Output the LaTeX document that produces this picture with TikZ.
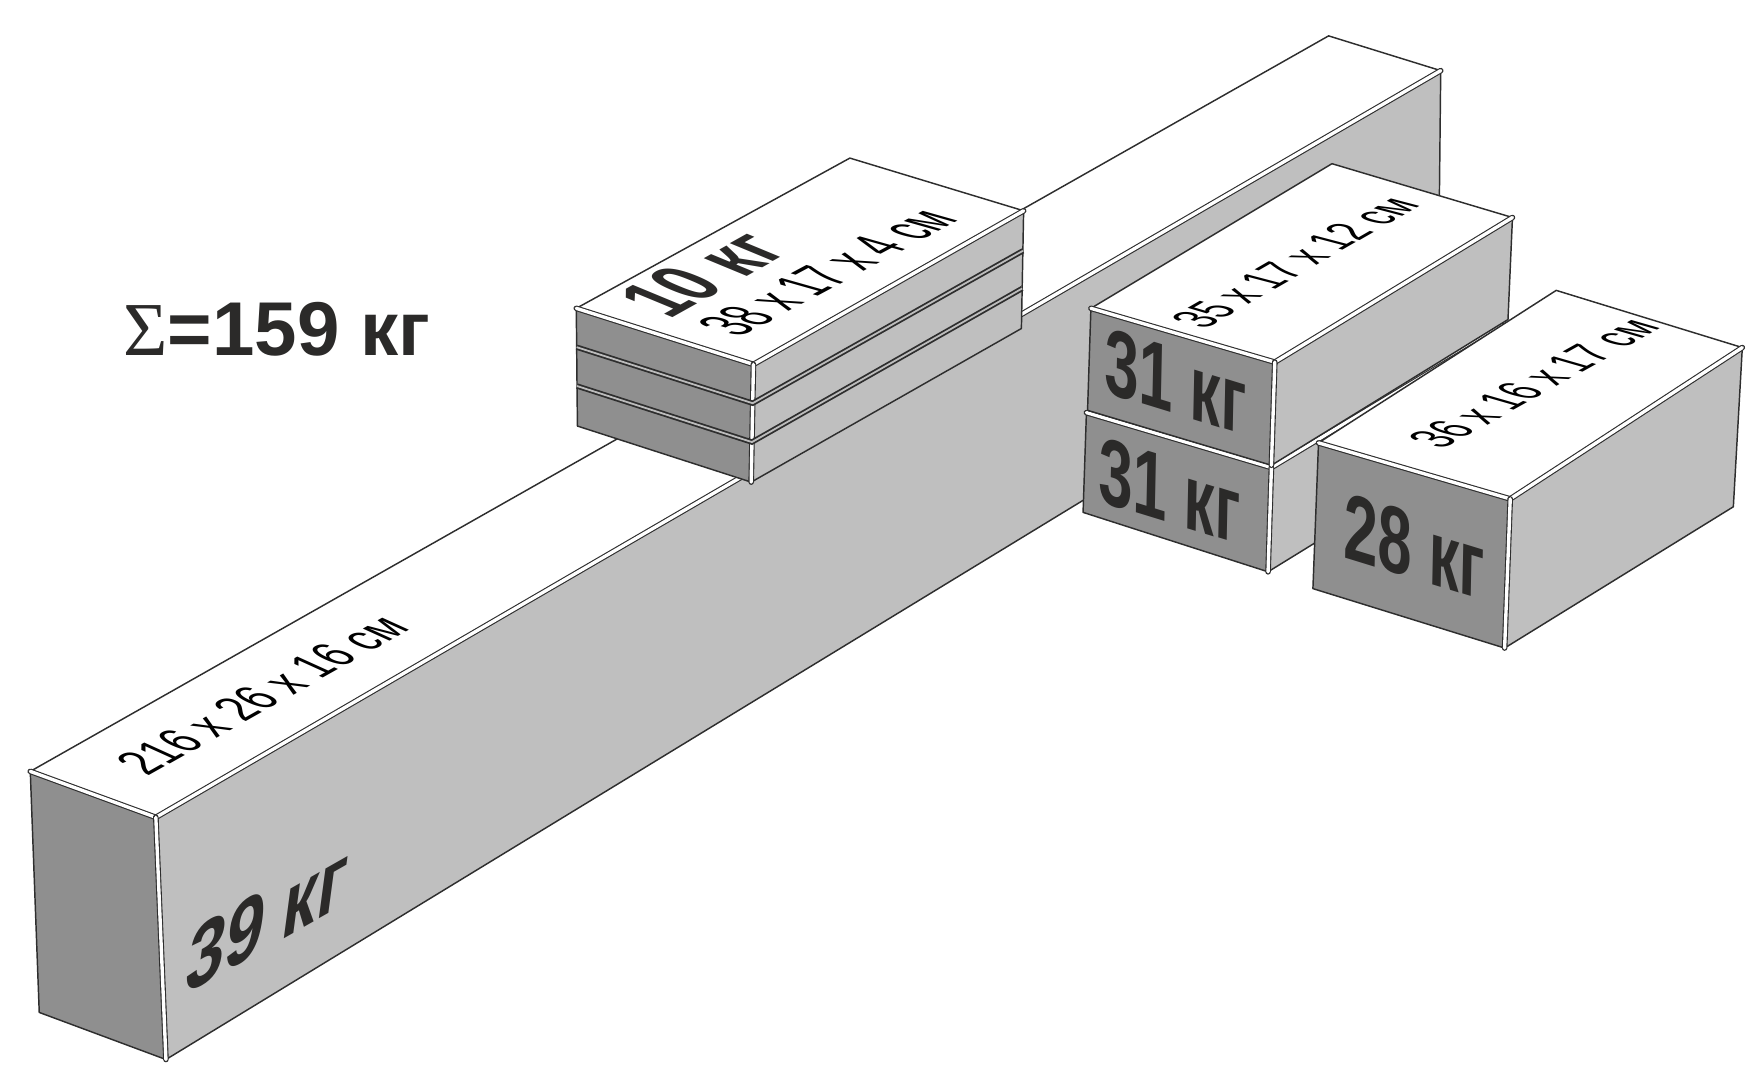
\documentclass[tikz,border=0pt]{standalone}
\usepackage{fontspec}
\usetikzlibrary{calc}
\setmainfont{Liberation Sans}
\newfontfamily\sigmafont{Liberation Serif}
\definecolor{sidegray}{HTML}{BFBFBF}
\definecolor{frontgray}{HTML}{8F8F8F}
\definecolor{inkgray}{HTML}{2B2A29}
\definecolor{edgegray}{HTML}{2E2E2E}
\tikzset{
	thinedge/.style = {draw=edgegray, line width=1.3pt, line cap=round, line join=round},
	bevel/.style = {draw=edgegray, line width=1pt, double=white, double distance=3pt, line cap=round},
	seam/.style = {draw=edgegray, line width=1.6pt, double=frontgray!60, double distance=1.6pt},
	facetext/.style = {inner sep=0pt, outer sep=0pt, anchor=base west, text=inkgray, transform shape},
	sizetext/.style = {facetext, text=black, font=\fontsize{30}{30}\selectfont},
	masstext/.style = {facetext, font=\bfseries\fontsize{84}{84}\selectfont},
}
\tikzset{
	crate/.pic = {
	 \fill [white] (#1-a) -- (#1-b) -- (#1-c) -- (#1-d) -- cycle;
	 \fill [frontgray] (#1-a) -- (#1-b) -- (#1-f) -- (#1-e) -- cycle;
	 \fill [sidegray] (#1-b) -- (#1-c) -- (#1-g) -- (#1-f) -- cycle;
	 \draw [thinedge] (#1-a) -- (#1-d) -- (#1-c);
	 \draw [thinedge] (#1-a) -- (#1-e) -- (#1-f) -- (#1-g) -- (#1-c);
	 \draw [bevel] (#1-a) -- (#1-b);
	 \draw [bevel] (#1-b) -- (#1-c);
	 \draw [bevel] (#1-b) -- (#1-f);
	 }
	}

\begin{document}
\begin{tikzpicture}[x=1pt, y=-1pt]
\useasboundingbox (0,0) rectangle (1568,971);

% CORNERS
% long beam
\coordinate (beam-a) at (27,688);
\coordinate (beam-b) at (139,729);
\coordinate (beam-c) at (1285,63);
\coordinate (beam-d) at (1185,32);
\coordinate (beam-e) at (35,903);
\coordinate (beam-f) at (148,945);
\coordinate (beam-g) at (1283,253);
% flat stack
\coordinate (flat-a) at (514,275);
\coordinate (flat-b) at (672,325);
\coordinate (flat-c) at (913,188);
\coordinate (flat-d) at (758,141);
\coordinate (flat-e) at (515,380);
\coordinate (flat-f) at (670,430);
\coordinate (flat-g) at (911,293);
% lower block
\coordinate (low-a) at (969,368);
\coordinate (low-b) at (1134,417);
\coordinate (low-c) at (1345,290);
\coordinate (low-d) at (1180,240);
\coordinate (low-e) at (966,457);
\coordinate (low-f) at (1131,510);
\coordinate (low-g) at (1342,380);
% upper block
\coordinate (up-a) at (973,275);
\coordinate (up-b) at (1137,323);
\coordinate (up-c) at (1349,194);
\coordinate (up-d) at (1188,146);
\coordinate (up-e) at (970,366);
\coordinate (up-f) at (1134,415);
\coordinate (up-g) at (1345,285);
% right block
\coordinate (right-a) at (1176,395);
\coordinate (right-b) at (1347,445);
\coordinate (right-c) at (1554,310);
\coordinate (right-d) at (1388,259);
\coordinate (right-e) at (1171,525);
\coordinate (right-f) at (1342,578);
\coordinate (right-g) at (1546,452);

% BLOCKS
\pic {crate=beam};
\pic {crate=flat};
\coordinate (seam1l) at ($(flat-a)!0.33!(flat-e)$);
\coordinate (seam1m) at ($(flat-b)!0.33!(flat-f)$);
\coordinate (seam1r) at ($(flat-c)!0.34!(flat-g)$);
\coordinate (seam2l) at ($(flat-a)!0.66!(flat-e)$);
\coordinate (seam2m) at ($(flat-b)!0.66!(flat-f)$);
\coordinate (seam2r) at ($(flat-c)!0.66!(flat-g)$);
\draw [seam] (seam1l) -- (seam1m) -- (seam1r);
\draw [seam] (seam2l) -- (seam2m) -- (seam2r);
\pic {crate=low};
\pic {crate=up};
\pic {crate=right};

% LABELS
\node (total) [anchor=base west, inner sep=0pt, text=inkgray, font=\bfseries\fontsize{68}{68}\selectfont] at (110,317) {{\sigmafont\mdseries\char"03A3}=159 кг};
\node (beamsize) [sizetext, cm={1.05,0.59,-1.5,0.68,(0,0)}] at (132,693) {216 x 26 x 16 см};
\node (flatsize) [sizetext, cm={1.03,0.55,-1.95,0.55,(0,0)}] at (660,301) {38 x 17 x 4 см};
\node (upsize) [sizetext, cm={0.93,0.535,-1.6,0.42,(0,0)}] at (1075,294) {35 x 17 x 12 см};
\node (rightsize) [sizetext, cm={0.945,0.525,-1.6,0.46,(0,0)}] at (1287,401) {36 x 16 x 17 см};
\node (beammass) [masstext, font=\bfseries\fontsize{70}{70}\selectfont, cm={0.88,0.5,0.16,1.2,(0,0)}] at (164,888) {39 кг};
\node (flatmass) [masstext, font=\bfseries\fontsize{50}{50}\selectfont, cm={0.95,0.53,-1.45,0.6,(0,0)}] at (597,285) {10 кг};
\node (upmass) [masstext, cm={0.65,-0.2,0.02,1,(0,0)}] at (985,350) {31 кг};
\node (lowmass) [masstext, cm={0.65,-0.2,0.02,1,(0,0)}] at (980,447) {31 кг};
\node (rightmass) [masstext, cm={0.65,-0.2,0.02,1,(0,0)}] at (1198,497) {28 кг};

\end{tikzpicture}
\end{document}
